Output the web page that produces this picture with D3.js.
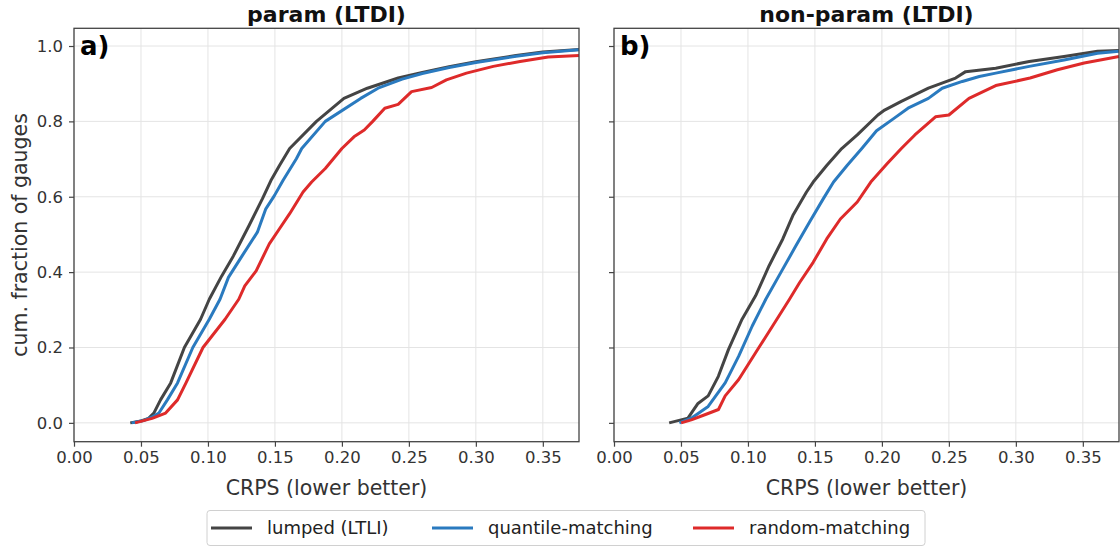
<!DOCTYPE html>
<html>
<head>
<meta charset="utf-8">
<script src="https://cdn.jsdelivr.net/npm/d3@7"></script>
<style>
  body { margin: 0; background: #fff; }
  text { font-family: "DejaVu Sans", sans-serif; }
</style>
</head>
<body>
<div id="chart"></div>
<script>
// CDF curves: [CRPS, cumulative fraction]
const paramLumped = [[0.042,0],[0.050,0.005],[0.0557,0.012],[0.0596,0.026],[0.0646,0.061],[0.0722,0.106],[0.0824,0.20],[0.0945,0.275],[0.101,0.328],[0.1103,0.39],[0.119,0.443],[0.1306,0.523],[0.1407,0.595],[0.147,0.643],[0.1534,0.683],[0.161,0.728],[0.181,0.80],[0.2015,0.861],[0.219,0.888],[0.242,0.915],[0.26,0.93],[0.28,0.945],[0.30,0.958],[0.33,0.975],[0.35,0.984],[0.377,0.991]];
const paramQuantile = [[0.043,0],[0.052,0.006],[0.058,0.015],[0.0634,0.026],[0.0697,0.061],[0.0773,0.106],[0.0887,0.20],[0.101,0.275],[0.109,0.328],[0.1153,0.386],[0.1255,0.443],[0.1369,0.506],[0.1432,0.568],[0.1496,0.603],[0.156,0.643],[0.166,0.701],[0.170,0.728],[0.1876,0.80],[0.214,0.861],[0.227,0.888],[0.245,0.912],[0.26,0.927],[0.28,0.943],[0.30,0.956],[0.33,0.973],[0.35,0.982],[0.377,0.99]];
const paramRandom = [[0.0456,0],[0.0583,0.012],[0.0684,0.026],[0.0773,0.061],[0.0836,0.106],[0.0963,0.20],[0.1128,0.275],[0.123,0.328],[0.1275,0.3635],[0.136,0.4035],[0.1458,0.475],[0.1534,0.515],[0.161,0.555],[0.171,0.6125],[0.1774,0.639],[0.1876,0.675],[0.200,0.728],[0.209,0.759],[0.2167,0.777],[0.223,0.80],[0.232,0.835],[0.242,0.845],[0.252,0.879],[0.267,0.89],[0.278,0.91],[0.293,0.928],[0.313,0.946],[0.333,0.959],[0.354,0.971],[0.377,0.975]];

const nonparamLumped = [[0.0412,0],[0.0552,0.0125],[0.0627,0.0515],[0.0703,0.0715],[0.0779,0.1235],[0.0855,0.195],[0.0956,0.275],[0.1057,0.337],[0.1158,0.417],[0.126,0.488],[0.1335,0.55],[0.1436,0.612],[0.1487,0.639],[0.1588,0.683],[0.170,0.728],[0.1816,0.764],[0.197,0.817],[0.202,0.83],[0.2145,0.853],[0.2347,0.888],[0.255,0.915],[0.2625,0.932],[0.285,0.941],[0.310,0.959],[0.336,0.972],[0.361,0.986],[0.377,0.988]];
const nonparamQuantile = [[0.0488,0],[0.0577,0.0125],[0.0703,0.0435],[0.083,0.106],[0.0931,0.177],[0.1032,0.257],[0.1133,0.328],[0.1247,0.40],[0.136,0.471],[0.146,0.533],[0.1563,0.595],[0.1639,0.639],[0.174,0.683],[0.185,0.728],[0.196,0.775],[0.209,0.808],[0.2195,0.835],[0.2347,0.861],[0.245,0.888],[0.260,0.906],[0.2727,0.919],[0.285,0.928],[0.310,0.946],[0.336,0.963],[0.361,0.981],[0.377,0.986]];
const nonparamRandom = [[0.0501,0],[0.0577,0.008],[0.0678,0.0215],[0.078,0.0355],[0.083,0.0715],[0.0931,0.115],[0.1057,0.186],[0.1184,0.257],[0.131,0.328],[0.1386,0.3725],[0.1487,0.426],[0.1588,0.488],[0.169,0.541],[0.1816,0.586],[0.1917,0.639],[0.204,0.688],[0.2145,0.728],[0.2246,0.764],[0.240,0.812],[0.250,0.817],[0.265,0.861],[0.285,0.895],[0.3106,0.915],[0.331,0.937],[0.351,0.955],[0.377,0.972]];

const seriesNames = ['lumped (LTLI)', 'quantile-matching', 'random-matching'];
const seriesColors = ['#444444', '#2a7abf', '#de2a2a'];
const panelTitles = ['param (LTDI)', 'non-param (LTDI)'];
const panelLetters = ['a)', 'b)'];
const xTicks = [0, 0.05, 0.10, 0.15, 0.20, 0.25, 0.30, 0.35];
const yTicks = [0, 0.2, 0.4, 0.6, 0.8, 1.0];

const panels = [
  [paramLumped, paramQuantile, paramRandom],
  [nonparamLumped, nonparamQuantile, nonparamRandom]
];

const W = 1120, H = 548;
const plotTop = 28.3, plotBottom = 441.7;
const panelLeft = [74, 614];
const panelWidth = 505;

const svg = d3.select('#chart').append('svg')
  .attr('width', W).attr('height', H)
  .style('background', '#fff');

const y = d3.scaleLinear().domain([-0.05, 1.047]).range([plotBottom, plotTop]);

panels.forEach((curves, pi) => {
  const left = panelLeft[pi];
  const x = d3.scaleLinear().domain([0, 0.377]).range([left, left + panelWidth]);
  const g = svg.append('g');

  // grid
  g.selectAll('.vgrid').data(xTicks).enter().append('line')
    .attr('x1', d => x(d)).attr('x2', d => x(d))
    .attr('y1', plotTop).attr('y2', plotBottom)
    .attr('stroke', '#e4e4e4').attr('stroke-width', 1);
  g.selectAll('.hgrid').data(yTicks).enter().append('line')
    .attr('x1', left).attr('x2', left + panelWidth)
    .attr('y1', d => y(d)).attr('y2', d => y(d))
    .attr('stroke', '#e4e4e4').attr('stroke-width', 1);

  // curves
  const line = d3.line().x(d => x(d[0])).y(d => y(d[1]));
  curves.forEach((c, ci) => {
    g.append('path').datum(c)
      .attr('d', line)
      .attr('fill', 'none')
      .attr('stroke', seriesColors[ci])
      .attr('stroke-width', 3)
      .attr('stroke-linejoin', 'round');
  });

  // spines
  g.append('rect')
    .attr('x', left).attr('y', plotTop)
    .attr('width', panelWidth).attr('height', plotBottom - plotTop)
    .attr('fill', 'none').attr('stroke', '#444').attr('stroke-width', 1.3);

  // axes
  const xAxis = g.append('g')
    .attr('transform', `translate(0,${plotBottom})`)
    .call(d3.axisBottom(x).tickValues(xTicks).tickFormat(d3.format('.2f')).tickSize(5).tickPadding(5));
  const yAxis = g.append('g')
    .attr('transform', `translate(${left},0)`)
    .call(d3.axisLeft(y).tickValues(yTicks).tickFormat(pi === 0 ? d3.format('.1f') : '').tickSize(5).tickPadding(6));
  [xAxis, yAxis].forEach(a => {
    a.select('.domain').remove();
    a.selectAll('line').attr('stroke', '#444').attr('stroke-width', 1.2);
    a.selectAll('text').attr('fill', '#333').style('font-size', '16.5px')
      .style('font-family', '"DejaVu Sans", sans-serif');
  });

  // titles and labels
  g.append('text')
    .attr('x', left + panelWidth / 2).attr('y', 22)
    .attr('text-anchor', 'middle')
    .style('font-size', '22px').style('font-weight', 'bold')
    .attr('fill', '#111')
    .text(panelTitles[pi]);
  g.append('text')
    .attr('x', left + 6).attr('y', 55)
    .style('font-size', '26px').style('font-weight', 'bold')
    .attr('fill', '#000')
    .text(panelLetters[pi]);
  g.append('text')
    .attr('x', left + panelWidth / 2).attr('y', 495)
    .attr('text-anchor', 'middle')
    .style('font-size', '20.5px')
    .attr('fill', '#333')
    .text('CRPS (lower better)');
});

svg.append('text')
  .attr('transform', `translate(27,${(plotTop + plotBottom) / 2}) rotate(-90)`)
  .attr('text-anchor', 'middle')
  .style('font-size', '20.5px')
  .attr('fill', '#333')
  .text('cum. fraction of gauges');

// legend
const legend = svg.append('g');
legend.append('rect')
  .attr('x', 207).attr('y', 510.5).attr('width', 718).attr('height', 35)
  .attr('rx', 3).attr('fill', '#fff').attr('stroke', '#d0d0d0');
const legendX = [211, 432, 693];
seriesNames.forEach((name, i) => {
  legend.append('line')
    .attr('x1', legendX[i]).attr('x2', legendX[i] + 41)
    .attr('y1', 528).attr('y2', 528)
    .attr('stroke', seriesColors[i]).attr('stroke-width', 3);
  legend.append('text')
    .attr('x', legendX[i] + 56).attr('y', 534)
    .style('font-size', '18px')
    .attr('fill', '#222')
    .text(name);
});
</script>
</body>
</html>
